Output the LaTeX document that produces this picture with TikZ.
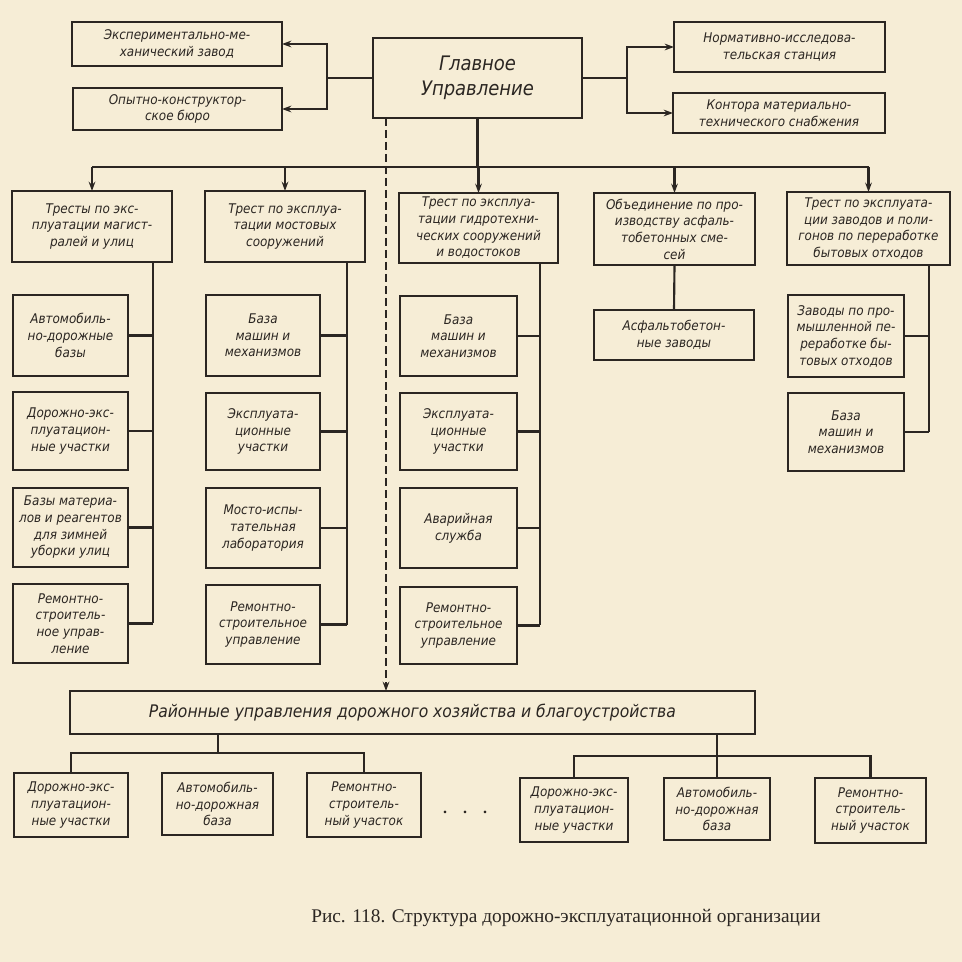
\documentclass[tikz,border=0pt]{standalone}
\usepackage{fontspec}
\setmainfont{Liberation Serif}
\newfontfamily\hand{DejaVu Sans Condensed}
\usetikzlibrary{arrows.meta}
\definecolor{paper}{HTML}{F6EDD6}
\definecolor{ink}{HTML}{2B2622}
\tikzset{
  box/.style={draw=ink,line width=1.5pt,inner sep=1pt,outer sep=0pt,align=center,
    font=\hand\itshape\fontsize{10}{12.5}\selectfont,text=ink},
  ln/.style={draw=ink,line width=1.6pt},
  arr/.style={ln,-{Stealth[length=7pt,width=5pt]}},
}
\newcommand\bx[7][]{\node[box,#1,minimum width={(#5-#3)*0.75pt},minimum height={(#6-#4)*0.75pt}] (#2) at ({(#3+#5)/2},{(#4+#6)/2}) {#7};}
\begin{document}
\begin{tikzpicture}[x=0.75pt,y=-0.75pt]
\fill[paper] (0,0) rectangle (962,962);
\useasboundingbox (0,0) rectangle (962,962);
% top
\bx{exp}{72}{22}{282}{66}{Экспериментально-ме-\\ханический завод}
\bx{opyt}{73}{88}{282}{130}{Опытно-конструктор-\\ское бюро}
\bx[font=\hand\itshape\fontsize{15}{19}\selectfont]{main}{373}{38}{582}{118}{Главное\\Управление}
\bx{norm}{674}{22}{885}{72}{Нормативно-исследова-\\тельская станция}
\bx{kont}{673}{93}{885}{133}{Контора материально-\\технического снабжения}
\coordinate (lb) at (327,78);
\coordinate (rb) at (627,78);
\draw[ln] (main.west) -- (lb);
\draw[arr] (lb) |- (exp.east);
\draw[arr] (lb) |- (opyt.east);
\draw[ln] (main.east) -- (rb);
\draw[arr] (rb) |- (norm.west);
\draw[arr] (rb) |- (kont.west);
% trusts
\bx{A}{12}{191}{172}{262}{Тресты по экс-\\плуатации магист-\\ралей и улиц}
\bx{B}{205}{191}{365}{262}{Трест по эксплуа-\\тации мостовых\\сооружений}
\bx{C}{399}{193}{558}{263}{Трест по эксплуа-\\тации гидротехни-\\ческих сооружений\\и водостоков}
\bx{D}{594}{193}{755}{265}{Объединение по про-\\изводству асфаль-\\тобетонных сме-\\сей}
\bx{E}{787}{192}{950}{265}{Трест по эксплуата-\\ции заводов и поли-\\гонов по переработке\\бытовых отходов}
\coordinate (bus) at (0,167);
\draw[ln] (main.south) -- (main.south |- bus);
\draw[ln] (A.north |- bus) -- (E.north |- bus);
\foreach \n in {A,B,C,D,E} \draw[arr] (\n.north |- bus) -- (\n.north);
% column A
\bx{a1}{13}{295}{128}{376}{Автомобиль-\\но-дорожные\\базы}
\bx{a2}{13}{392}{128}{470}{Дорожно-экс-\\плуатацион-\\ные участки}
\bx{a3}{13}{488}{128}{567}{Базы материа-\\лов и реагентов\\для зимней\\уборки улиц}
\bx{a4}{13}{584}{128}{663}{Ремонтно-\\строитель-\\ное управ-\\ление}
\coordinate (spA) at (153,623);
\draw[ln] (A.south -| spA) -- (spA);
\foreach \n in {a1,a2,a3,a4} \draw[ln] (\n.east) -- (\n.east -| spA);
% column B
\bx{b1}{206}{295}{320}{376}{База\\машин и\\механизмов}
\bx{b2}{206}{393}{320}{470}{Эксплуата-\\ционные\\участки}
\bx{b3}{206}{488}{320}{568}{Мосто-испы-\\тательная\\лаборатория}
\bx{b4}{206}{585}{320}{664}{Ремонтно-\\строительное\\управление}
\coordinate (spB) at (347,625);
\draw[ln] (B.south -| spB) -- (spB);
\foreach \n in {b1,b2,b3,b4} \draw[ln] (\n.east) -- (\n.east -| spB);
% column C
\bx{c1}{400}{296}{517}{376}{База\\машин и\\механизмов}
\bx{c2}{400}{393}{517}{470}{Эксплуата-\\ционные\\участки}
\bx{c3}{400}{488}{517}{568}{Аварийная\\служба}
\bx{c4}{400}{587}{517}{664}{Ремонтно-\\строительное\\управление}
\coordinate (spC) at (540,625);
\draw[ln] (C.south -| spC) -- (spC);
\foreach \n in {c1,c2,c3,c4} \draw[ln] (\n.east) -- (\n.east -| spC);
% column D
\bx{d1}{594}{310}{754}{360}{Асфальтобетон-\\ные заводы}
\draw[ln] (D.south) -- (d1.north);
% column E
\bx{e1}{788}{295}{904}{377}{Заводы по про-\\мышленной пе-\\реработке бы-\\товых отходов}
\bx{e2}{788}{393}{904}{471}{База\\машин и\\механизмов}
\coordinate (spE) at (929,432);
\draw[ln] (E.south -| spE) -- (spE);
\foreach \n in {e1,e2} \draw[ln] (\n.east) -- (\n.east -| spE);
% district
\bx[font=\hand\itshape\fontsize{13}{15}\selectfont]{ray}{70}{691}{755}{734}{Районные управления дорожного хозяйства и благоустройства}
\coordinate (dash) at (386,0);
\draw[ln,dashed,dash pattern=on 6pt off 3pt,-{Stealth[length=7pt,width=5pt]}] (main.south -| dash) -- (ray.north -| dash);
\bx{f1}{14}{773}{128}{837}{Дорожно-экс-\\плуатацион-\\ные участки}
\bx{f2}{162}{773}{273}{835}{Автомобиль-\\но-дорожная\\база}
\bx{f3}{307}{773}{421}{837}{Ремонтно-\\строитель-\\ный участок}
\bx{g1}{520}{778}{628}{842}{Дорожно-экс-\\плуатацион-\\ные участки}
\bx{g2}{664}{778}{770}{840}{Автомобиль-\\но-дорожная\\база}
\bx{g3}{815}{778}{926}{843}{Ремонтно-\\строитель-\\ный участок}
\coordinate (lg) at (218,753);
\coordinate (rg) at (717,756);
\draw[ln] (ray.south -| lg) -- (lg);
\draw[ln] (f1.north) |- (lg) -| (f3.north);
\draw[ln] (g2.north |- ray.south) -- (g2.north);
\draw[ln] (g1.north) |- (rg) -| (g3.north);
\node[text=ink,font=\bfseries\fontsize{12}{14}\selectfont] (dots) at (465,812) {.\quad.\quad.};
\node[text=ink,font=\fontsize{14.5}{17}\selectfont] (cap) at (566,918) {Рис. 118. Структура дорожно-эксплуатационной организации};
\end{tikzpicture}
\end{document}
